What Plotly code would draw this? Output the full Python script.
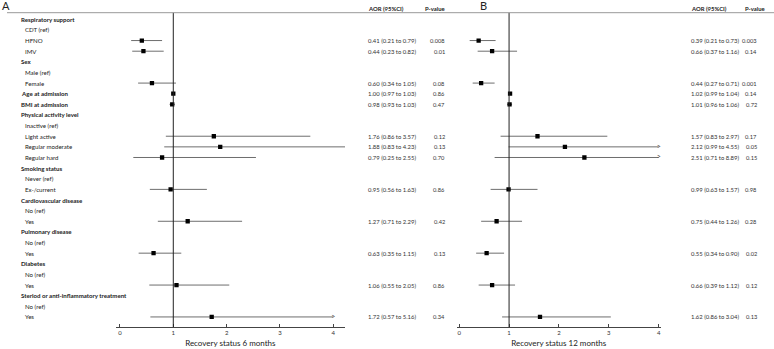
import plotly.graph_objects as go

# ---------------- data ----------------
row_labels = [
    "Respiratory support", "CDT (ref)", "HFNO", "IMV",
    "Sex", "Male (ref)", "Female",
    "Age at admission", "BMI at admission",
    "Physical activity level", "Inactive (ref)", "Light active", "Regular moderate", "Regular hard",
    "Smoking status", "Never (ref)", "Ex-/current",
    "Cardiovascular disease", "No (ref)", "Yes",
    "Pulmonary disease", "No (ref)", "Yes",
    "Diabetes", "No (ref)", "Yes",
    "Steriod or anti-inflammatory treatment", "No (ref)", "Yes",
]
row_is_header = [
    1, 0, 0, 0,
    1, 0, 0,
    1, 1,
    1, 0, 0, 0, 0,
    1, 0, 0,
    1, 0, 0,
    1, 0, 0,
    1, 0, 0,
    1, 0, 0,
]
N = None
aor_6m = [N, N, 0.41, 0.44, N, N, 0.60, 1.00, 0.98, N, N, 1.76, 1.88, 0.79, N, N, 0.95, N, N, 1.27, N, N, 0.63, N, N, 1.06, N, N, 1.72]
lo_6m  = [N, N, 0.21, 0.23, N, N, 0.34, 0.97, 0.93, N, N, 0.86, 0.83, 0.25, N, N, 0.56, N, N, 0.71, N, N, 0.35, N, N, 0.55, N, N, 0.57]
hi_6m  = [N, N, 0.79, 0.82, N, N, 1.05, 1.03, 1.03, N, N, 3.57, 4.23, 2.55, N, N, 1.63, N, N, 2.29, N, N, 1.15, N, N, 2.05, N, N, 5.16]
p_6m   = [N, N, "0.008", "0.01", N, N, "0.08", "0.86", "0.47", N, N, "0.12", "0.13", "0.70", N, N, "0.86", N, N, "0.42", N, N, "0.13", N, N, "0.86", N, N, "0.34"]

aor_12m = [N, N, 0.39, 0.66, N, N, 0.44, 1.02, 1.01, N, N, 1.57, 2.12, 2.51, N, N, 0.99, N, N, 0.75, N, N, 0.55, N, N, 0.66, N, N, 1.62]
lo_12m  = [N, N, 0.21, 0.37, N, N, 0.27, 0.99, 0.96, N, N, 0.83, 0.99, 0.71, N, N, 0.63, N, N, 0.44, N, N, 0.34, N, N, 0.39, N, N, 0.86]
hi_12m  = [N, N, 0.73, 1.16, N, N, 0.71, 1.04, 1.06, N, N, 2.97, 4.55, 8.89, N, N, 1.57, N, N, 1.26, N, N, 0.90, N, N, 1.12, N, N, 3.04]
p_12m   = [N, N, "0.003", "0.14", N, N, "0.001", "0.14", "0.72", N, N, "0.17", "0.05", "0.15", N, N, "0.98", N, N, "0.28", N, N, "0.02", N, N, "0.12", N, N, "0.13"]

x_ticks = [0, 1, 2, 3, 4]
titles = ["Recovery status 6 months", "Recovery status 12 months"]
panel_letters = ["A", "B"]

# ---------------- layout constants ----------------
W, H = 774, 349
FONT = "Lato, 'Open Sans', sans-serif"
LINE_COL = "#6e6e6e"
ARROW_LIMIT = 4.0      # plotted cap for truncated CIs
ARROW_TRIGGER = 4.5    # CIs beyond this get an arrow

def px(x):
    return x / W

def py(y):
    return 1 - y / H

row_top, row_step = 19.3, 10.63
n_rows = len(row_labels)
y_range = [(H - row_top) / row_step, -row_top / row_step]
axis_y = py(327)

panels = [
    dict(aor=aor_6m, lo=lo_6m, hi=hi_6m, p=p_6m, xa="x", dom=[px(115.7), px(345)], rng=[-0.08, 4.22],
         aor_x=px(366), p_x=px(447), p_hdr_x=px(447), letter_x=px(0)),
    dict(aor=aor_12m, lo=lo_12m, hi=hi_12m, p=p_12m, xa="x2", dom=[px(456.7), px(660.7)], rng=[-0.05, 4.04],
         aor_x=px(689), p_x=px(759), p_hdr_x=px(767), letter_x=px(478)),
]

fig = go.Figure()
annotations = []
shapes = []

for k, pn in enumerate(panels):
    ys, xs, eplus, eminus, arrows_y = [], [], [], [], []
    for i in range(n_rows):
        v = pn["aor"][i]
        if v is None:
            continue
        lo, hi = pn["lo"][i], pn["hi"][i]
        top = hi
        if hi > ARROW_TRIGGER:
            top = ARROW_LIMIT
            arrows_y.append(i)
        ys.append(i)
        xs.append(v)
        eplus.append(top - v)
        eminus.append(v - lo)
        annotations.append(dict(
            x=pn["aor_x"], y=i, xref="paper", yref="y", xanchor="left", yanchor="middle",
            text=f"{v:.2f} ({lo:.2f} to {hi:.2f})", showarrow=False,
            font=dict(family=FONT, size=5.9, color="#333")))
        annotations.append(dict(
            x=pn["p_x"], y=i, xref="paper", yref="y", xanchor="right", yanchor="middle",
            text=pn["p"][i], showarrow=False,
            font=dict(family=FONT, size=5.7, color="#333")))

    fig.add_trace(go.Scatter(
        x=xs, y=ys, xaxis=pn["xa"], yaxis="y", mode="markers",
        marker=dict(symbol="square", size=4.3, color="black"),
        error_x=dict(type="data", symmetric=False, array=eplus, arrayminus=eminus,
                     color=LINE_COL, thickness=1, width=0),
        showlegend=False, hoverinfo="skip", cliponaxis=True))
    if arrows_y:
        fig.add_trace(go.Scatter(
            x=[ARROW_LIMIT] * len(arrows_y), y=arrows_y, xaxis=pn["xa"], yaxis="y",
            mode="text", text=[">"] * len(arrows_y), textposition="middle center",
            textfont=dict(family=FONT, size=7, color="#444"),
            showlegend=False, hoverinfo="skip", cliponaxis=False))

    # reference line at OR = 1
    shapes.append(dict(type="line", xref=pn["xa"], yref="paper", x0=1, x1=1,
                       y0=axis_y, y1=py(12.7), line=dict(color="#222", width=1)))
    # column headers
    annotations.append(dict(x=pn["aor_x"], y=py(9), xref="paper", yref="paper",
                            xanchor="left", yanchor="middle", text="<b>AOR (95%CI)</b>",
                            showarrow=False, font=dict(family=FONT, size=5.9, color="#222")))
    annotations.append(dict(x=pn["p_hdr_x"], y=py(9), xref="paper", yref="paper",
                            xanchor="right", yanchor="middle", text="<b>P-value</b>",
                            showarrow=False, font=dict(family=FONT, size=5.9, color="#222")))
    annotations.append(dict(x=pn["letter_x"], y=py(5.5), xref="paper", yref="paper",
                            xanchor="left", yanchor="middle", text=panel_letters[k],
                            showarrow=False, font=dict(family=FONT, size=11, color="#222")))

# row labels (left side, panel A only)
for i, lab in enumerate(row_labels):
    hdr = row_is_header[i]
    annotations.append(dict(
        x=px(19 if hdr else 23), y=i, xref="paper", yref="y", xanchor="left", yanchor="middle",
        text=f"<b>{lab}</b>" if hdr else lab, showarrow=False,
        font=dict(family=FONT, size=6.1, color="#222")))

# top rule
shapes.append(dict(type="line", xref="paper", yref="paper", x0=px(7), x1=1,
                   y0=py(12.7), y1=py(12.7), line=dict(color="#999", width=1)))

axis_common = dict(
    showgrid=False, zeroline=False, showline=True, linecolor="#444", linewidth=1,
    ticks="inside", ticklen=3, tickcolor="#444", tickvals=x_ticks,
    tickfont=dict(family=FONT, size=6, color="#333"),
    anchor="free", position=axis_y, fixedrange=True,
)
fig.update_layout(
    width=W, height=H,
    margin=dict(l=0, r=0, t=0, b=0),
    paper_bgcolor="white", plot_bgcolor="white",
    xaxis=dict(domain=panels[0]["dom"], range=panels[0]["rng"],
               title=dict(text=titles[0], font=dict(family=FONT, size=8, color="#222"), standoff=5),
               **axis_common),
    xaxis2=dict(domain=panels[1]["dom"], range=panels[1]["rng"],
                title=dict(text=titles[1], font=dict(family=FONT, size=8, color="#222"), standoff=5),
                **axis_common),
    yaxis=dict(domain=[0, 1], range=y_range, visible=False, fixedrange=True),
    annotations=annotations,
    shapes=shapes,
)

fig.write_html("out.html", config={"displayModeBar": False},
               post_script="document.body.style.margin='0';document.body.style.overflow='hidden';")
